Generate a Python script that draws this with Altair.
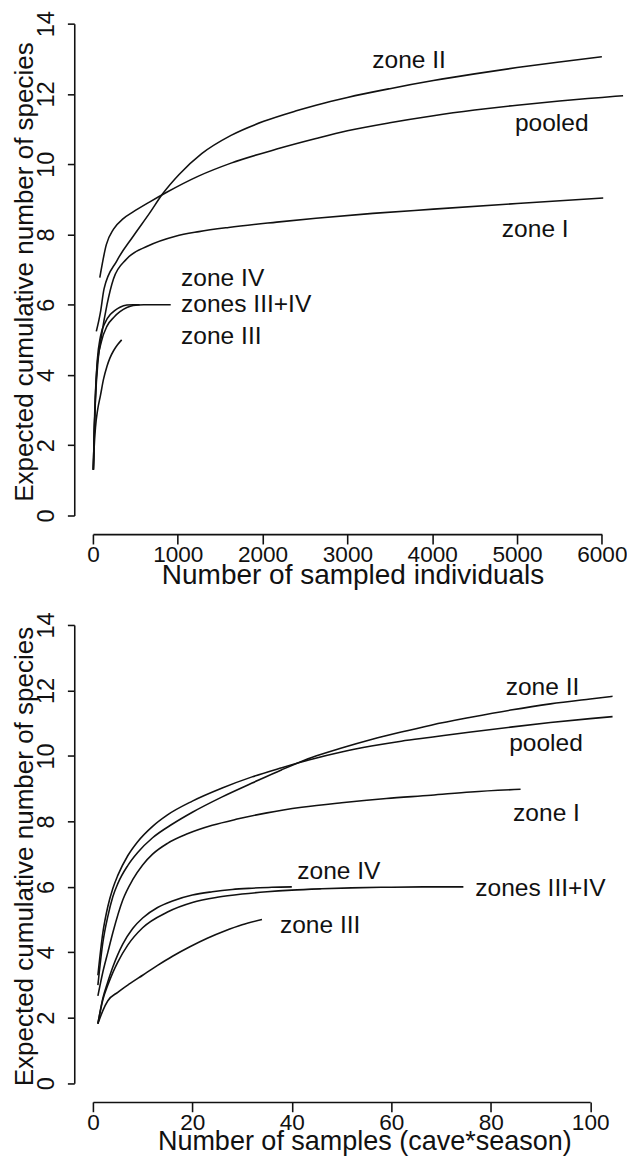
import altair as alt
import pandas as pd

FONT = "Liberation Sans"

# ---------------- top panel: number of sampled individuals ----------------
top_zone2_x = [40, 89, 131, 282, 475, 666, 820, 1013, 1282, 1628, 2014, 2398, 2630, 3000, 3500, 4014, 4500, 5000, 5500, 6000]
top_zone2_y = [5.24, 5.79, 6.45, 7.25, 7.95, 8.6, 9.15, 9.7, 10.3, 10.82, 11.22, 11.52, 11.68, 11.9, 12.15, 12.38, 12.57, 12.75, 12.91, 13.06]

top_pooled_x = [81, 158, 243, 358, 474, 666, 870, 1244, 1628, 2167, 2630, 3000, 3500, 4014, 4500, 5000, 5500, 6000, 6250]
top_pooled_y = [6.77, 7.71, 8.15, 8.45, 8.64, 8.92, 9.2, 9.66, 10.03, 10.43, 10.73, 10.95, 11.18, 11.38, 11.54, 11.68, 11.8, 11.9, 11.95]

top_zone1_x = [5, 15, 30, 60, 100, 166, 243, 397, 647, 974, 1250, 1600, 2167, 2630, 3300, 4014, 5000, 6016]
top_zone1_y = [1.3, 2.3, 3.3, 4.4, 5.1, 6.0, 6.74, 7.30, 7.67, 7.95, 8.08, 8.2, 8.35, 8.46, 8.6, 8.72, 8.88, 9.04]

top_zone4_x = [5, 15, 30, 51, 89, 150, 204, 260, 319, 400, 475, 551]
top_zone4_y = [1.3, 2.4, 3.5, 4.4, 5.1, 5.52, 5.72, 5.84, 5.93, 5.99, 6.0, 6.0]

top_zone34_x = [5, 15, 30, 51, 100, 166, 250, 319, 400, 475, 600, 917]
top_zone34_y = [1.3, 2.3, 3.4, 4.3, 4.95, 5.39, 5.65, 5.8, 5.92, 5.98, 6.0, 6.0]

top_zone3_x = [5, 15, 30, 55, 89, 125, 166, 200, 243, 290, 339]
top_zone3_y = [1.3, 1.95, 2.5, 3.0, 3.42, 3.88, 4.25, 4.48, 4.69, 4.86, 5.0]

top_labels = ["zone II", "pooled", "zone I", "zone IV", "zones III+IV", "zone III"]
top_label_x = [3293, 4975, 4821, 1039, 1039, 1039]
top_label_y = [12.73, 10.95, 7.92, 6.525, 5.80, 4.88]

top_xticks = [0, 1000, 2000, 3000, 4000, 5000, 6000]

# ---------------- bottom panel: number of samples ----------------
bot_zone2_x = [1, 2, 3, 4, 5, 7, 9, 12, 16, 20, 26, 32, 38, 44, 50, 56, 62, 68, 76, 84, 92, 100, 104.5]
bot_zone2_y = [3.0, 4.3, 5.1, 5.7, 6.1, 6.65, 7.05, 7.5, 7.92, 8.28, 8.75, 9.17, 9.58, 9.95, 10.24, 10.5, 10.73, 10.94, 11.18, 11.4, 11.59, 11.74, 11.82]

bot_pooled_x = [1, 2, 3, 4, 5, 7, 9, 12, 15, 20, 26, 32, 38, 44, 50, 56, 62, 68, 76, 84, 92, 100, 104.5]
bot_pooled_y = [3.3, 4.6, 5.4, 5.95, 6.35, 6.95, 7.38, 7.85, 8.2, 8.62, 9.02, 9.36, 9.64, 9.9, 10.12, 10.3, 10.45, 10.57, 10.73, 10.88, 11.02, 11.14, 11.2]

bot_zone1_x = [1, 2, 3, 4, 6, 8, 10, 12, 15, 19, 24, 29, 35, 42, 50, 59, 68, 76, 86]
bot_zone1_y = [2.67, 3.4, 4.0, 4.6, 5.6, 6.22, 6.67, 7.0, 7.33, 7.62, 7.88, 8.07, 8.26, 8.43, 8.57, 8.7, 8.8, 8.9, 8.98]

bot_zone4_x = [1, 2, 3, 4, 5, 6, 8, 10, 13, 16, 20, 24, 28, 32, 36, 40]
bot_zone4_y = [1.82, 2.6, 3.1, 3.55, 3.93, 4.25, 4.73, 5.05, 5.37, 5.57, 5.75, 5.85, 5.92, 5.96, 5.99, 6.0]

bot_zone34_x = [1, 2, 3, 4, 5, 7, 10, 15, 20, 25, 30, 35, 40, 46, 52, 60, 68, 74.5]
bot_zone34_y = [1.82, 2.55, 3.0, 3.38, 3.7, 4.22, 4.75, 5.23, 5.52, 5.68, 5.78, 5.85, 5.9, 5.94, 5.97, 5.99, 6.0, 6.0]

bot_zone3_x = [1, 2, 3, 5, 7.5, 10, 13, 16, 19.5, 23, 26.5, 30, 34]
bot_zone3_y = [1.82, 2.22, 2.52, 2.78, 3.05, 3.3, 3.6, 3.88, 4.17, 4.43, 4.65, 4.84, 5.0]

bot_labels = ["zone II", "pooled", "zone I", "zone IV", "zones III+IV", "zone III"]
bot_label_x = [83.0, 83.7, 84.5, 41.1, 76.9, 37.6]
bot_label_y = [11.87, 10.16, 8.0, 6.235, 5.72, 4.60]

bot_xticks = [0, 20, 40, 60, 80, 100]

y_ticks = [0, 2, 4, 6, 8, 10, 12, 14]
y_title = "Expected cumulative number of species"


def series_frame(series):
    rows = []
    for name, xs, ys in series:
        for i, (xv, yv) in enumerate(zip(xs, ys)):
            rows.append({"series": name, "x": xv, "y": yv, "order": i})
    return pd.DataFrame(rows)


def label_frame(labels, xs, ys):
    return pd.DataFrame({"label": labels, "x": xs, "y": ys})


def panel(df, ldf, xdomain, xticks, width, height, xtitle, xtitle_x, xtitle_y, xtitle_size):
    x_enc = alt.X(
        "x:Q",
        scale=alt.Scale(domain=xdomain, nice=False, zero=False),
        axis=alt.Axis(
            values=xticks, title=xtitle, grid=False, offset=19, tickSize=10,
            labelPadding=0, labelBaseline="top", labelFontSize=23,
            labelFont=FONT, titleFont=FONT, titleFontSize=xtitle_size, titleFontWeight="normal",
            titleX=xtitle_x, titleY=xtitle_y, titleBaseline="alphabetic", titleAlign="center",
            labelFlush=False, labelOverlap=False, format="d",
        ),
    )
    y_enc = alt.Y(
        "y:Q",
        scale=alt.Scale(domain=[0, 14], nice=False, zero=False),
        axis=alt.Axis(
            values=y_ticks, title=y_title, grid=False, offset=19, tickSize=7,
            labelPadding=14, labelAngle=270, labelAlign="center", labelBaseline="alphabetic",
            labelFontSize=24, labelFont=FONT, titleFont=FONT, titleFontSize=26.5,
            titleFontWeight="normal", titleX=-43, titleY=height / 2 + 2,
            titleAngle=270, titleBaseline="alphabetic", titleAlign="center",
            labelFlush=False, labelOverlap=False,
        ),
    )
    lines = alt.Chart(df).mark_line(
        color="#111111", strokeWidth=1.6, clip=False, interpolate="monotone"
    ).encode(x=x_enc, y=y_enc, detail="series:N", order="order:Q")
    text = alt.Chart(ldf).mark_text(
        align="left", baseline="alphabetic", font=FONT, fontSize=25, color="#111111"
    ).encode(x=alt.X("x:Q"), y=alt.Y("y:Q"), text="label:N")
    return alt.layer(lines, text).properties(width=width, height=height)


top_df = series_frame([
    ("zone II", top_zone2_x, top_zone2_y),
    ("pooled", top_pooled_x, top_pooled_y),
    ("zone I", top_zone1_x, top_zone1_y),
    ("zone IV", top_zone4_x, top_zone4_y),
    ("zones III+IV", top_zone34_x, top_zone34_y),
    ("zone III", top_zone3_x, top_zone3_y),
])
bot_df = series_frame([
    ("zone II", bot_zone2_x, bot_zone2_y),
    ("pooled", bot_pooled_x, bot_pooled_y),
    ("zone I", bot_zone1_x, bot_zone1_y),
    ("zone IV", bot_zone4_x, bot_zone4_y),
    ("zones III+IV", bot_zone34_x, bot_zone34_y),
    ("zone III", bot_zone3_x, bot_zone3_y),
])

top = panel(top_df, label_frame(top_labels, top_label_x, top_label_y),
            [0, 6000], top_xticks, 518.4, 501, "Number of sampled individuals", 264.5, 50, 28.5)
bottom = panel(bot_df, label_frame(bot_labels, bot_label_x, bot_label_y),
               [0, 100], bot_xticks, 506.5, 466.8, "Number of samples (cave*season)", 276.5, 48, 27.5)

chart = alt.vconcat(top, bottom, spacing=111.5, bounds="flush").properties(
    padding={"left": 2.5, "top": -8.8, "right": 0, "bottom": 0},
    background="white",
).configure_view(
    strokeWidth=0, strokeOpacity=0
).configure_axis(
    domainColor="#111111", tickColor="#111111", labelColor="#111111", titleColor="#111111",
    domainWidth=1.6, tickWidth=1.6,
)

chart.save("out.html", embed_options={"renderer": "svg", "actions": False})
